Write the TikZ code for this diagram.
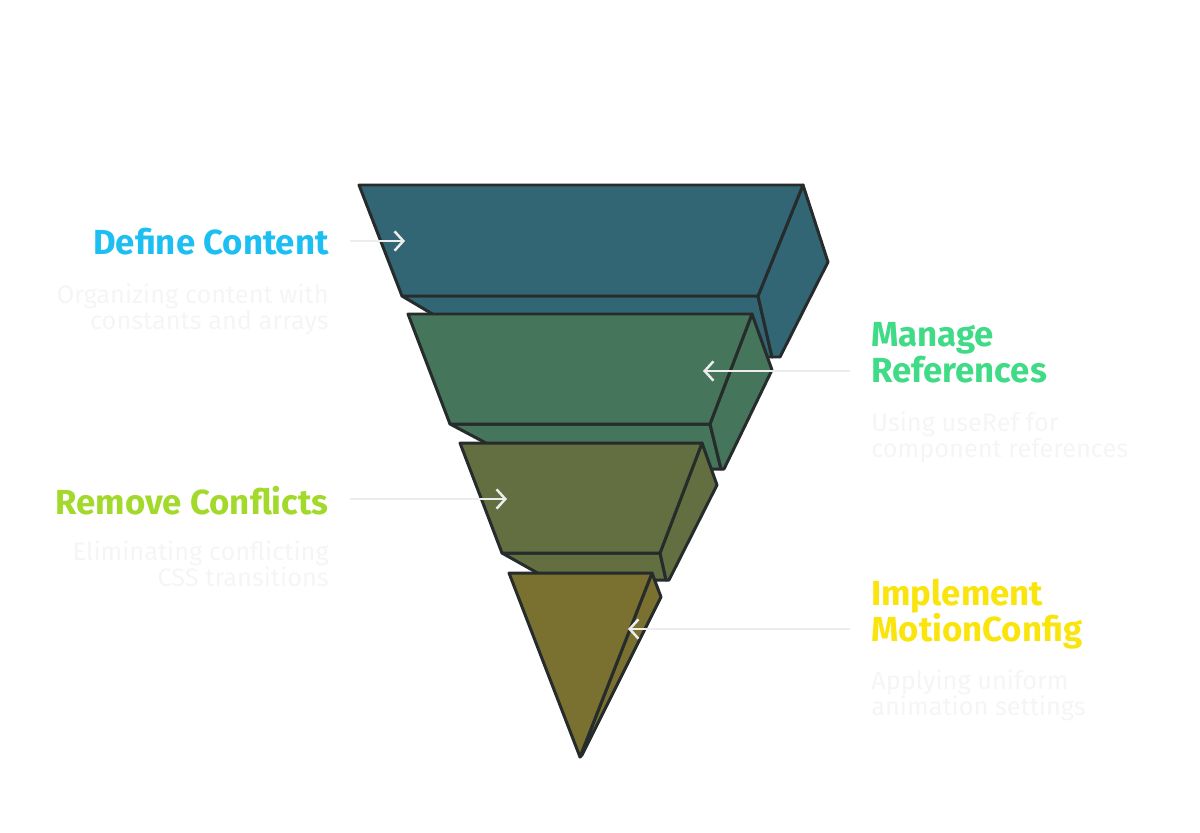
\documentclass[tikz,border=0pt]{standalone}
\usepackage{fontspec}
\setmainfont{Fira Sans}
\usetikzlibrary{arrows.meta}
\definecolor{lvl_a}{HTML}{336675}
\definecolor{lvl_b}{HTML}{45755B}
\definecolor{lvl_c}{HTML}{636F40}
\definecolor{lvl_d}{HTML}{7A702F}
\definecolor{edge}{HTML}{262B2B}
\definecolor{t_a}{HTML}{1DBFF2}
\definecolor{t_b}{HTML}{3FDB87}
\definecolor{t_c}{HTML}{A2D92B}
\definecolor{t_d}{HTML}{F9E40B}
\tikzstyle{face}=[draw=edge,line width=1.7pt,line join=round]
\tikzstyle{title}=[font=\bfseries\fontsize{19.8}{20.5}\selectfont,inner sep=0pt]
\tikzstyle{desc}=[font=\fontsize{14.4}{15.3}\selectfont,text=black!4,inner sep=0pt]
\tikzstyle{pointer}=[draw=white!93!black,line width=1.4pt,
  -{Straight Barb[length=5pt,width=11pt,line width=1.4pt]}]

\begin{document}
\begin{tikzpicture}[x=0.02cm,y=-0.02cm]
    \useasboundingbox (0,0) rectangle (1200,832);
    % top block
    \filldraw [style=face, fill=lvl_a] (402,296) -- (758,296) -- (772,357) -- (505,357) -- cycle;
    \filldraw [style=face, fill=lvl_a] (758,296) -- (803,185) -- (828,262) -- (780,357) -- (772,357) -- cycle;
    \filldraw [style=face, fill=lvl_a] (359,185) -- (803,185) -- (758,296) -- (402,296) -- cycle;
    % second block
    \filldraw [style=face, fill=lvl_b] (450,424) -- (710,424) -- (721,469) -- (535,469) -- cycle;
    \filldraw [style=face, fill=lvl_b] (710,424) -- (752,314) -- (772,370) -- (724,469) -- (721,469) -- cycle;
    \filldraw [style=face, fill=lvl_b] (408,314) -- (752,314) -- (710,424) -- (450,424) -- cycle;
    % third block
    \filldraw [style=face, fill=lvl_c] (502,553) -- (660,553) -- (666,580) -- (550,580) -- cycle;
    \filldraw [style=face, fill=lvl_c] (660,553) -- (702,443) -- (717,485) -- (669,580) -- (666,580) -- cycle;
    \filldraw [style=face, fill=lvl_c] (460,443) -- (702,443) -- (660,553) -- (502,553) -- cycle;
    % tip
    \filldraw [style=face, fill=lvl_d] (580,757) -- (652,573) -- (661,597) -- (582,755) -- cycle;
    \filldraw [style=face, fill=lvl_d] (509,573) -- (652,573) -- (580,757) -- cycle;

    \coordinate (a0) at (350,241);
    \coordinate (a1) at (405,241);
    \coordinate (b0) at (850,371);
    \coordinate (b1) at (703,371);
    \coordinate (c0) at (350,499);
    \coordinate (c1) at (507,499);
    \coordinate (d0) at (850,629);
    \coordinate (d1) at (628,629);
    \draw [style=pointer] (a0) to (a1);
    \draw [style=pointer] (b0) to (b1);
    \draw [style=pointer] (c0) to (c1);
    \draw [style=pointer] (d0) to (d1);

    \node [style=title, text=t_a, anchor=north east] (ta) at (329,228) {Define Content};
    \node [style=desc, anchor=north east, align=right] (da) at (329,283) {Organizing content with\\constants and arrays};
    \node [style=title, text=t_b, anchor=north west, align=left] (tb) at (871,322) {Manage\\References};
    \node [style=desc, anchor=north west, align=left] (db) at (871,411) {Using useRef for\\component references};
    \node [style=title, text=t_c, anchor=north east] (tc) at (329,486) {Remove Conflicts};
    \node [style=desc, anchor=north east, align=right] (dc) at (329,540) {Eliminating conflicting\\CSS transitions};
    \node [style=title, text=t_d, anchor=north west, align=left] (td) at (871,579) {Implement\\MotionConfig};
    \node [style=desc, anchor=north west, align=left] (dd) at (871,669) {Applying uniform\\animation settings};
\end{tikzpicture}
\end{document}
